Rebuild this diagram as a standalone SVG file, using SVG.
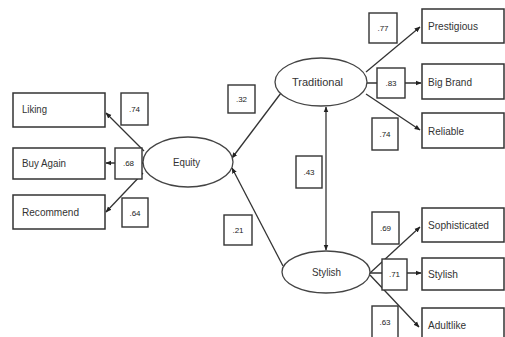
<svg xmlns="http://www.w3.org/2000/svg" width="505" height="337" viewBox="0 0 505 337">
<defs>
<marker id="ah" viewBox="0 0 10 10" refX="9" refY="5" markerWidth="6" markerHeight="6" orient="auto-start-reverse" markerUnits="userSpaceOnUse">
<path d="M0,1 L10,5 L0,9 z" fill="#222"/>
</marker>
<style>
.box{fill:#fff;stroke:#333;stroke-width:1.5}
.ell{fill:#fff;stroke:#444;stroke-width:1.3}
.cbox{fill:#fff;stroke:#333;stroke-width:1.4}
.ln{stroke:#333;stroke-width:1.3;fill:none;marker-end:url(#ah)}
.t{font-family:"Liberation Sans",Arial,sans-serif;font-size:11.5px;fill:#333}
.c{font-family:"Liberation Sans",Arial,sans-serif;font-size:8px;fill:#222;text-anchor:middle}
.m{text-anchor:middle}
</style>
</defs>
<rect width="505" height="337" fill="#fff"/>
<g id="connectors">
<line class="ln" x1="144" y1="151" x2="106" y2="113"/>
<line class="ln" x1="143" y1="163" x2="106" y2="163"/>
<line class="ln" x1="143" y1="173" x2="106" y2="212"/>
<line class="ln" x1="281" y1="93" x2="232" y2="158"/>
<line class="ln" x1="283" y1="266" x2="232" y2="168"/>
<line class="ln" x1="326" y1="107" x2="326" y2="250" style="marker-start:url(#ah)"/>
<line class="ln" x1="366" y1="72" x2="420" y2="27"/>
<line class="ln" x1="367" y1="83" x2="421" y2="83"/>
<line class="ln" x1="366" y1="94" x2="420" y2="130"/>
<line class="ln" x1="370" y1="273" x2="420" y2="227"/>
<line class="ln" x1="370" y1="273" x2="421" y2="273"/>
<line class="ln" x1="370" y1="275" x2="419" y2="327"/>
</g>
<g id="equity"><ellipse class="ell" cx="188" cy="162" rx="45" ry="25"/><text class="t" x="173" y="166" textLength="27" lengthAdjust="spacingAndGlyphs">Equity</text></g>
<g id="traditional"><ellipse class="ell" cx="321" cy="82" rx="46" ry="24"/><text class="t" x="292" y="86" textLength="51" lengthAdjust="spacingAndGlyphs">Traditional</text></g>
<g id="stylish-latent"><ellipse class="ell" cx="326" cy="272" rx="44" ry="21"/><text class="t" x="312" y="276" textLength="29" lengthAdjust="spacingAndGlyphs">Stylish</text></g>
<g id="liking"><rect class="box" x="13" y="93" width="92" height="34"/><text class="t" x="22" y="113" textLength="25" lengthAdjust="spacingAndGlyphs">Liking</text></g>
<g id="buyagain"><rect class="box" x="13" y="148" width="92" height="31"/><text class="t" x="22" y="167" textLength="44" lengthAdjust="spacingAndGlyphs">Buy Again</text></g>
<g id="recommend"><rect class="box" x="13" y="195" width="92" height="34"/><text class="t" x="22" y="216" textLength="57" lengthAdjust="spacingAndGlyphs">Recommend</text></g>
<g id="prestigious"><rect class="box" x="422" y="9" width="82" height="34"/><text class="t" x="428" y="30" textLength="50" lengthAdjust="spacingAndGlyphs">Prestigious</text></g>
<g id="bigbrand"><rect class="box" x="422" y="64" width="82" height="35"/><text class="t" x="428" y="86" textLength="44" lengthAdjust="spacingAndGlyphs">Big Brand</text></g>
<g id="reliable"><rect class="box" x="422" y="113" width="82" height="35"/><text class="t" x="428" y="135" textLength="36" lengthAdjust="spacingAndGlyphs">Reliable</text></g>
<g id="sophisticated"><rect class="box" x="422" y="208" width="82" height="34"/><text class="t" x="428" y="229" textLength="61" lengthAdjust="spacingAndGlyphs">Sophisticated</text></g>
<g id="stylish-item"><rect class="box" x="422" y="258" width="82" height="32"/><text class="t" x="428" y="278" textLength="30" lengthAdjust="spacingAndGlyphs">Stylish</text></g>
<g id="adultlike"><rect class="box" x="422" y="308" width="82" height="34"/><text class="t" x="428" y="329" textLength="38" lengthAdjust="spacingAndGlyphs">Adultlike</text></g>
<g id="coef-liking"><rect class="cbox" x="121" y="93" width="27" height="32"/><text class="c" x="134.5" y="112">.74</text></g>
<g id="coef-buy"><rect class="cbox" x="115" y="148" width="27" height="31"/><text class="c" x="128.5" y="166">.68</text></g>
<g id="coef-rec"><rect class="cbox" x="122" y="198" width="26" height="29"/><text class="c" x="135" y="216">.64</text></g>
<g id="coef-trad-eq"><rect class="cbox" x="228" y="85" width="27" height="28"/><text class="c" x="241.5" y="102">.32</text></g>
<g id="coef-sty-eq"><rect class="cbox" x="224" y="215" width="28" height="30"/><text class="c" x="238" y="233">.21</text></g>
<g id="coef-corr"><rect class="cbox" x="296" y="156" width="26" height="32"/><text class="c" x="309" y="175">.43</text></g>
<g id="coef-prest"><rect class="cbox" x="369" y="13" width="28" height="30"/><text class="c" x="383" y="31">.77</text></g>
<g id="coef-big"><rect class="cbox" x="377" y="68" width="28" height="30"/><text class="c" x="391" y="86">.83</text></g>
<g id="coef-rel"><rect class="cbox" x="372" y="118" width="26" height="32"/><text class="c" x="385" y="137">.74</text></g>
<g id="coef-soph"><rect class="cbox" x="372" y="212" width="27" height="32"/><text class="c" x="385.5" y="231">.69</text></g>
<g id="coef-sty"><rect class="cbox" x="382" y="259" width="25" height="31"/><text class="c" x="394.5" y="277">.71</text></g>
<g id="coef-adult"><rect class="cbox" x="372" y="306" width="26" height="33"/><text class="c" x="385" y="325">.63</text></g>
</svg>
